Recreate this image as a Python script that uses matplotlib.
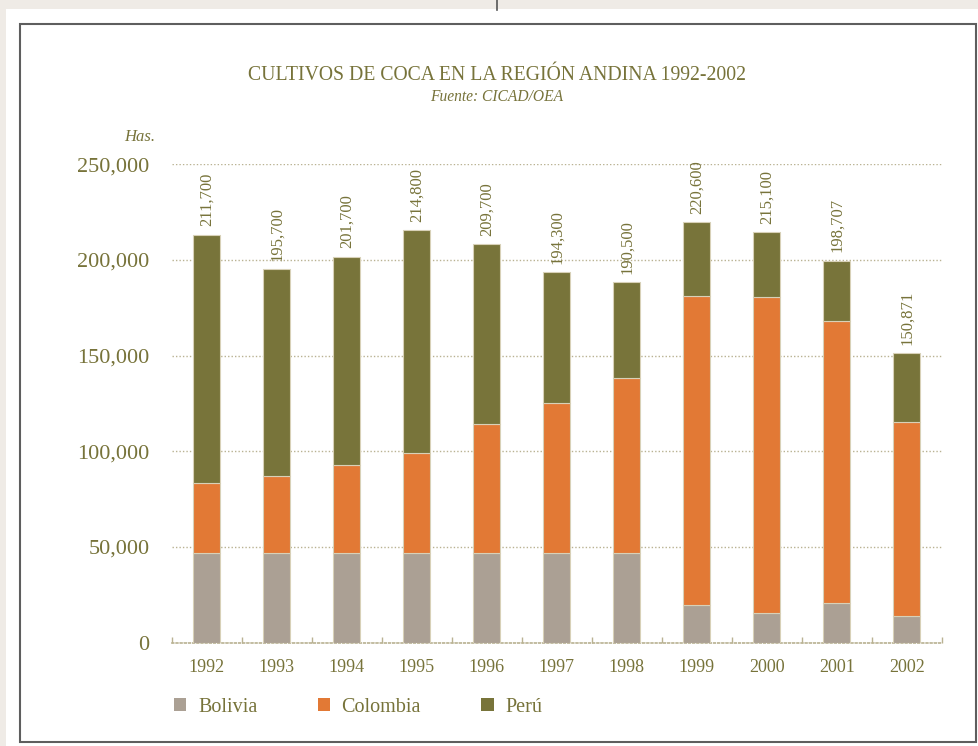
import numpy as np
import matplotlib.pyplot as plt
from matplotlib.patches import Rectangle, Patch
from matplotlib.lines import Line2D

# Data (hectares)
years = ['1992', '1993', '1994', '1995', '1996', '1997', '1998', '1999', '2000', '2001', '2002']
bolivia = [46800, 46800, 46800, 46800, 46800, 46800, 46800, 19600, 15200, 20700, 14000]
colombia = [36700, 40200, 46100, 52400, 67400, 78400, 91500, 161700, 165300, 147200, 101100]
peru = [129700, 108200, 108800, 116300, 94000, 68300, 50100, 38400, 33900, 31700, 36000]
total_labels = ['211,700', '195,700', '201,700', '214,800', '209,700', '194,300',
                '190,500', '220,600', '215,100', '198,707', '150,871']
series_names = ['Bolivia', 'Colombia', 'Perú']

# Colours
c_bol = '#ABA094'
c_col = '#E27935'
c_per = '#78743A'
c_text = '#77733A'
c_grid = '#B9B292'
c_edge = '#D8D1B8'

W, H = 979, 746
fig = plt.figure(figsize=(W / 100, H / 100), dpi=100, facecolor='#EFEBE6')
serif = 'Liberation Serif'

# white page + border
fig.patches.append(Rectangle((6 / W, 0), 1, 1 - 9 / H, transform=fig.transFigure,
                             facecolor='white', edgecolor='none', zorder=-5))
fig.patches.append(Rectangle((20.5 / W, 1 - 741.5 / H), (976 - 20.5) / W, (741.5 - 24) / H,
                             transform=fig.transFigure, fill=False,
                             edgecolor='#5E5E5E', lw=1.5, zorder=-4))
fig.lines.append(Line2D([497 / W, 497 / W], [1, 1 - 10 / H], transform=fig.transFigure,
                        color='#555555', lw=1.2))

ax = fig.add_axes([171.7 / W, 103.5 / H, 770 / W, (642.5 - 164.3) / H])
ax.set_facecolor('none')

x = np.arange(len(years))
bw = 0.38
bottom2 = np.array(bolivia) + np.array(colombia)
ax.bar(x, bolivia, bw, color=c_bol, edgecolor=c_edge, linewidth=0.8, zorder=3)
ax.bar(x, colombia, bw, bottom=bolivia, color=c_col, edgecolor=c_edge, linewidth=0.8, zorder=3)
ax.bar(x, peru, bw, bottom=bottom2, color=c_per, edgecolor=c_edge, linewidth=0.8, zorder=3)

tops = bottom2 + np.array(peru)
for xi, top, lab in zip(x, tops, total_labels):
    ax.annotate(lab, (xi, top), xytext=(0, 6), textcoords='offset points',
                rotation=90, ha='center', va='bottom', fontsize=12,
                family=serif, color=c_text)

ax.set_xlim(-0.5, len(years) - 0.5)
ax.set_ylim(0, 250000)

yt = [0, 50000, 100000, 150000, 200000, 250000]
ax.set_yticks(yt)
ax.set_yticklabels([f'{v:,}' for v in yt], family=serif, fontsize=16, color=c_text)
ax.tick_params(axis='y', length=0, pad=16)
ax.yaxis.grid(True, color=c_grid, linestyle=(0, (1, 1.5)), lw=1)
ax.set_axisbelow(True)

ax.set_xticks(x)
ax.set_xticklabels(years, family=serif, fontsize=13, color=c_text)
ax.set_xticks(np.arange(-0.5, len(years)), minor=True)
ax.tick_params(axis='x', which='major', length=0, pad=12)
ax.tick_params(axis='x', which='minor', direction='in', length=4, color=c_grid, width=1)

for s in ['top', 'right', 'left']:
    ax.spines[s].set_visible(False)
ax.spines['bottom'].set_color(c_grid)
ax.spines['bottom'].set_linestyle((0, (1, 1.5)))
ax.spines['bottom'].set_linewidth(1.2)

# titles
fig.text(497 / W, 1 - 75 / H, 'CULTIVOS DE COCA EN LA REGIÓN ANDINA 1992-2002',
         ha='center', va='center', family=serif, fontsize=14.2, color=c_text)
fig.text(497 / W, 1 - 97 / H, 'Fuente: CICAD/OEA', ha='center', va='center',
         family=serif, style='italic', fontsize=11.2, color=c_text)
fig.text(155 / W, 1 - 137 / H, 'Has.', ha='right', va='center',
         family=serif, style='italic', fontsize=12, color=c_text)

# legend
handles = [Patch(facecolor=c, edgecolor='none') for c in (c_bol, c_col, c_per)]
leg = fig.legend(handles, series_names, loc='center left',
                 bbox_to_anchor=(174 / W, 1 - 707 / H), ncol=3, frameon=False,
                 borderaxespad=0, borderpad=0,
                 prop={'family': serif, 'size': 14.5}, handlelength=0.62, handleheight=0.62,
                 handletextpad=0.57, columnspacing=3.0)
for t in leg.get_texts():
    t.set_color(c_text)

fig.savefig('out.png', dpi=100, facecolor=fig.get_facecolor())
